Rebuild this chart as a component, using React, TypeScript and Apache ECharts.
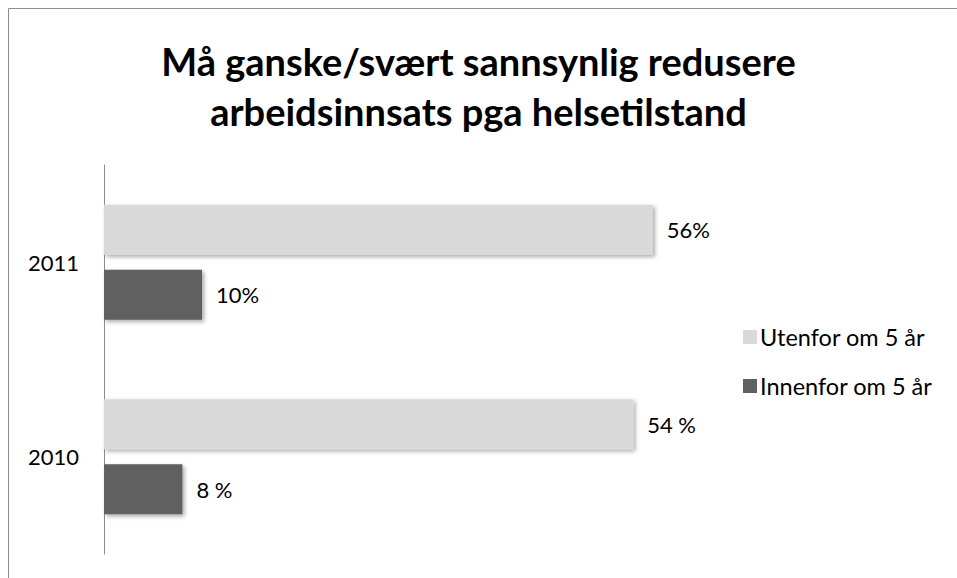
import React, { useEffect, useRef } from "react";
import * as echarts from "echarts";

const titleLines = ["Må ganske/svært sannsynlig redusere", "arbeidsinnsats pga helsetilstand"];
const categories = ["2010", "2011"];
const seriesOuter = "Utenfor om 5 år";
const seriesInner = "Innenfor om 5 år";
const outerValues = [54, 56];
const innerValues = [8, 10];
const outerLabels = ["54 %", "56%"];
const innerLabels = ["8 %", "10%"];

const FONT = "Lato, 'Open Sans', sans-serif";

export default function App() {
  const ref = useRef<HTMLDivElement>(null);
  useEffect(() => {
    if (!ref.current) return;
    const chart = echarts.init(ref.current, null, { renderer: "svg" });
    const labelStyle = { fontFamily: FONT, fontSize: 22, color: "#000" };
    const barShadow = {
      shadowBlur: 4,
      shadowOffsetX: 2,
      shadowOffsetY: 2,
      shadowColor: "rgba(0,0,0,0.35)",
    };
    chart.setOption({
      animation: false,
      backgroundColor: "#fff",
      title: {
        text: titleLines.join("\n"),
        left: "center",
        top: 31,
        textStyle: {
          fontFamily: FONT,
          fontWeight: "bold",
          fontSize: 38,
          lineHeight: 50,
          color: "#000",
        },
      },
      graphic: [
        {
          type: "rect",
          shape: { x: 8.5, y: 8.5, width: 1000, height: 1000 },
          style: { fill: "none", stroke: "#8c8c8c", lineWidth: 1 },
          silent: true,
        },
      ],
      legend: {
        orient: "vertical",
        left: 738,
        top: 320,
        itemWidth: 14,
        itemHeight: 14,
        itemGap: 25,
        icon: "rect",
        data: [seriesOuter, seriesInner],
        textStyle: { fontFamily: FONT, fontSize: 23.5, color: "#000", padding: [0, 0, 0, -2] },
      },
      grid: { left: 104, top: 165, width: 588, height: 389 },
      xAxis: {
        type: "value",
        min: 0,
        max: 60,
        show: false,
      },
      yAxis: {
        type: "category",
        data: categories,
        axisLine: { show: true, lineStyle: { color: "#8c8c8c", width: 1 } },
        axisTick: { show: false },
        axisLabel: { ...labelStyle, margin: 25 },
      },
      series: [
        {
          name: seriesOuter,
          type: "bar",
          data: outerValues,
          barWidth: 50,
          barGap: "30%",
          itemStyle: { color: "#d9d9d9", ...barShadow },
          label: {
            show: true,
            position: "right",
            distance: 14,
            ...labelStyle,
            formatter: (p: any) => outerLabels[p.dataIndex],
          },
        },
        {
          name: seriesInner,
          type: "bar",
          data: innerValues,
          barWidth: 50,
          barGap: "30%",
          itemStyle: { color: "#606060", ...barShadow },
          label: {
            show: true,
            position: "right",
            distance: 14,
            ...labelStyle,
            formatter: (p: any) => innerLabels[p.dataIndex],
          },
        },
      ],
    });
    return () => chart.dispose();
  }, []);
  return (
    <div
      ref={ref}
      style={{ position: "fixed", left: 0, top: 0, width: 957, height: 578 }}
    />
  );
}
